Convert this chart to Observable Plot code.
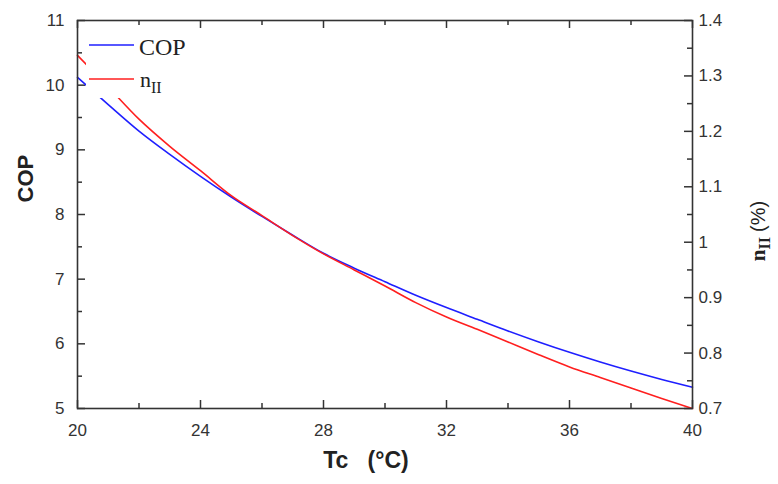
<!DOCTYPE html>
<html>
<head>
<meta charset="utf-8">
<script src="https://cdn.jsdelivr.net/npm/d3@7"></script>
<script src="https://cdn.jsdelivr.net/npm/@observablehq/plot@0.6"></script>
<style>
  html, body { margin: 0; padding: 0; background: #fff; }
  #chart svg { display: block; }
</style>
</head>
<body>
<div id="chart"></div>
<script>
// ---- data ----
const tc  = [20, 21, 22, 23, 24, 25, 26, 27, 28, 29, 30, 31, 32, 33, 34, 35, 36, 37, 38, 39, 40];
const cop = [10.12, 9.70, 9.29, 8.93, 8.59, 8.27, 7.97, 7.68, 7.40, 7.17, 6.96, 6.75, 6.56, 6.38, 6.20, 6.03, 5.87, 5.72, 5.58, 5.45, 5.33];
const eta = [1.337, 1.280, 1.222, 1.173, 1.129, 1.084, 1.048, 1.012, 0.979, 0.950, 0.921, 0.891, 0.865, 0.843, 0.820, 0.797, 0.775, 0.756, 0.737, 0.718, 0.700];

const xMajor = [20, 24, 28, 32, 36, 40];
const xMinor = [22, 26, 30, 34, 38];
const yMajor = [5, 6, 7, 8, 9, 10, 11];
const yMinor = [5.5, 6.5, 7.5, 8.5, 9.5, 10.5];
const etaMajor = [0.7, 0.8, 0.9, 1.0, 1.1, 1.2, 1.3, 1.4];
const etaMinor = [0.75, 0.85, 0.95, 1.05, 1.15, 1.25, 1.35];

const seriesNames = ["COP", "n", "II"];
const xTitle = "Tc\u00a0\u00a0\u00a0(°C)";
const yTitle = "COP";

// right axis (eta, 0.7–1.4) mapped onto left axis (COP, 5–11)
const toCop = v => 5 + (v - 0.7) * 6 / 0.7;
const fromCop = c => 0.7 + (c - 5) * 0.7 / 6;

const data = tc.map((t, i) => ({tc: t, cop: cop[i], etaY: toCop(eta[i])}));

const W = 778, H = 484, mL = 77, mR = 86, mT = 20, mB = 76;
const pw = W - mL - mR, ph = H - mT - mB;
const ink = "#333";
const blue = "#1f1fff", red = "#ff1f1f";
const majorLen = 8, minorLen = 5;

const chart = Plot.plot({
  width: W, height: H,
  marginLeft: mL, marginRight: mR, marginTop: mT, marginBottom: mB,
  x: {domain: [20, 40]},
  y: {domain: [5, 11]},
  style: {fontFamily: "Arial, 'Liberation Sans', sans-serif", fontSize: "17px", color: ink, background: "#fff"},
  marks: [
    Plot.axisX(xMajor, {tickSize: 0, tickPadding: 15, fontSize: 17, label: null, tickFormat: d => String(d)}),
    Plot.axisY(yMajor, {anchor: "left", tickSize: 0, tickPadding: 13, fontSize: 17, label: null, tickFormat: d => String(d)}),
    Plot.axisY(etaMajor.map(toCop), {anchor: "right", tickSize: 0, tickPadding: 6, fontSize: 17, label: null,
      tickFormat: d => String(Math.round(fromCop(d) * 10) / 10)}),
    // inward ticks
    Plot.tickY(yMajor, {y: d => d, insetRight: pw - majorLen, stroke: ink, strokeWidth: 1.5}),
    Plot.tickY(yMinor, {y: d => d, insetRight: pw - minorLen, stroke: ink, strokeWidth: 1.5}),
    Plot.tickY(etaMajor, {y: toCop, insetLeft: pw - majorLen, stroke: ink, strokeWidth: 1.5}),
    Plot.tickY(etaMinor, {y: toCop, insetLeft: pw - minorLen, stroke: ink, strokeWidth: 1.5}),
    Plot.tickX(xMajor, {x: d => d, insetTop: ph - majorLen, stroke: ink, strokeWidth: 1.5}),
    Plot.tickX(xMinor, {x: d => d, insetTop: ph - minorLen, stroke: ink, strokeWidth: 1.5}),
    Plot.tickX(xMajor, {x: d => d, insetBottom: ph - majorLen, stroke: ink, strokeWidth: 1.5}),
    Plot.tickX(xMinor, {x: d => d, insetBottom: ph - minorLen, stroke: ink, strokeWidth: 1.5}),
    // series
    Plot.line(data, {x: "tc", y: "cop", stroke: blue, strokeWidth: 1.6, curve: "monotone-x"}),
    Plot.line(data, {x: "tc", y: "etaY", stroke: red, strokeWidth: 1.6, curve: "monotone-x"}),
    Plot.frame({stroke: ink, strokeWidth: 1.6}),
    // axis titles
    Plot.text([yTitle], {text: d => d, frameAnchor: "left", dx: -52, dy: -12, rotate: -90,
      fontWeight: "bold", fontSize: 22, fill: "#222"}),
    Plot.text([xTitle], {text: d => d, frameAnchor: "bottom", dx: -19, dy: 59,
      fontWeight: "bold", fontSize: 23, fill: "#222"})
  ]
});

document.getElementById("chart").appendChild(chart);

const svg = d3.select(chart);

// right axis title: n_II (%)
const rt = svg.append("text")
  .attr("transform", "translate(765,231) rotate(-90)")
  .attr("text-anchor", "middle")
  .attr("fill", "#222");
rt.append("tspan").attr("font-family", "'Liberation Serif', 'Times New Roman', serif")
  .attr("font-weight", "bold").attr("font-size", 21).text(seriesNames[1]);
rt.append("tspan").attr("font-family", "'Liberation Serif', 'Times New Roman', serif")
  .attr("font-weight", "bold").attr("font-size", 16).attr("dy", 5).text(seriesNames[2]);
rt.append("tspan").attr("font-family", "Arial, 'Liberation Sans', sans-serif")
  .attr("font-size", 20).attr("dy", -5).attr("dx", 5).text("(%)");

// legend (white box over the plot, like the original)
const lg = svg.append("g").attr("text-anchor", "start");
lg.append("rect").attr("x", 86).attr("y", 28).attr("width", 92).attr("height", 70).attr("fill", "#fff");
lg.append("line").attr("x1", 89).attr("x2", 134).attr("y1", 45).attr("y2", 45)
  .attr("stroke", blue).attr("stroke-width", 1.6);
lg.append("line").attr("x1", 89).attr("x2", 134).attr("y1", 79).attr("y2", 79)
  .attr("stroke", red).attr("stroke-width", 1.6);
lg.append("text").attr("x", 139).attr("y", 55).attr("text-anchor", "start")
  .attr("font-family", "'Liberation Serif', 'Times New Roman', serif").attr("font-size", 24)
  .attr("fill", "#222").text(seriesNames[0]);
const lt = lg.append("text").attr("x", 140).attr("y", 87).attr("text-anchor", "start")
  .attr("font-family", "'Liberation Serif', 'Times New Roman', serif").attr("fill", "#222");
lt.append("tspan").attr("font-size", 22).text(seriesNames[1]);
lt.append("tspan").attr("font-size", 16).attr("dy", 6).text(seriesNames[2]);
</script>
</body>
</html>
